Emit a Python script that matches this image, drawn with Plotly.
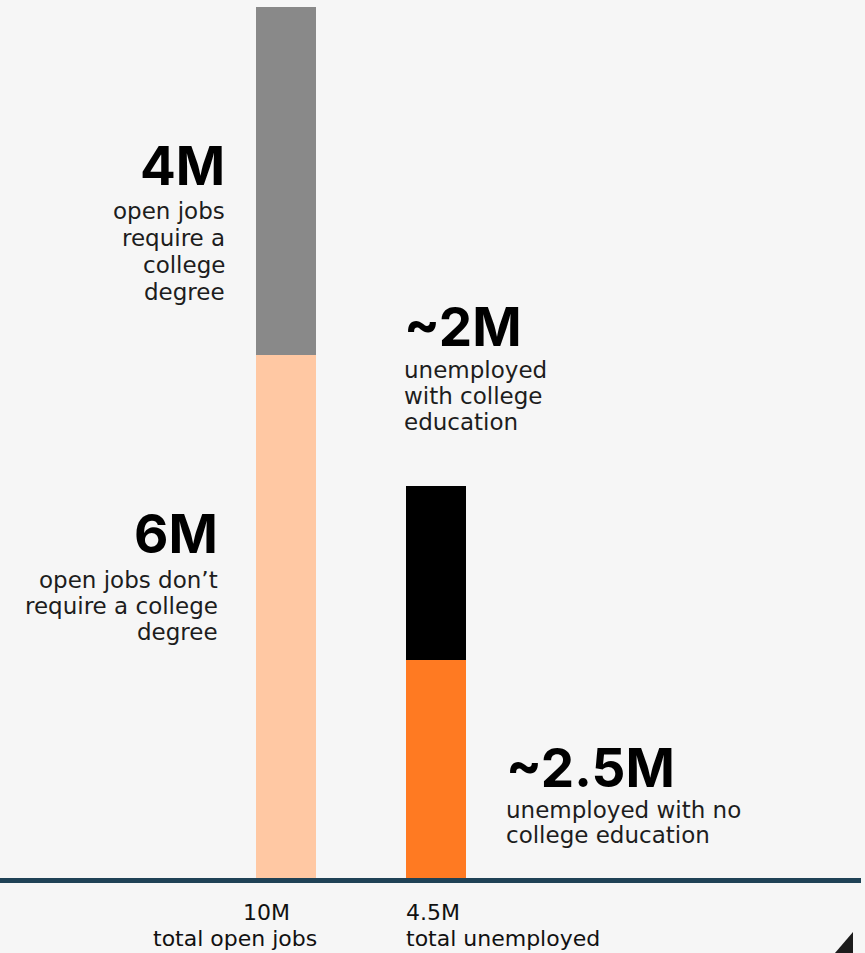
import plotly.graph_objects as go

# ---- data (millions) ----
categories = ["total open jobs", "total unemployed"]
bottom_values = [6, 2.5]      # jobs without degree requirement / unemployed without college
top_values = [4, 2]           # jobs requiring a degree / unemployed with college
bottom_colors = ["#ffc8a3", "#ff7a22"]
top_colors = ["#898989", "#000000"]

segment_numbers = ["6M", "~2.5M", "4M", "~2M"]
segment_texts = [
    ["open jobs don\u2019t", "require a college", "degree"],
    ["unemployed with no", "college education"],
    ["open jobs", "require a", "college", "degree"],
    ["unemployed", "with college", "education"],
]

# ---- page geometry ----
W, H = 865, 953
M_T, M_B, M_L, M_R = 7, 75, 0, 4
PLOT_H = H - M_T - M_B
PLOT_W = W - M_L - M_R
Y_MAX = 10
BAR_STEP_PX = 150          # distance between bar centres
FIRST_BAR_PX = 286         # centre of first bar
BAR_WIDTH = 60 / BAR_STEP_PX
x_lo = -(FIRST_BAR_PX - M_L) / BAR_STEP_PX
x_hi = x_lo + PLOT_W / BAR_STEP_PX

BG = "#f6f6f6"
BODY_FONT = "DejaVu Sans"
NUM_FONT = "Inter"
BODY_SIZE = 23
NUM_SIZE = 53


def py_of(v):
    """pixel row of a data value on the y axis"""
    return M_T + PLOT_H * (1 - v / Y_MAX)


def paper_y(py):
    return (M_T + PLOT_H - py) / PLOT_H


def paper_x(px):
    return (px - M_L) / PLOT_W


fig = go.Figure()
fig.add_trace(go.Bar(x=categories, y=bottom_values, width=BAR_WIDTH,
                     marker=dict(color=bottom_colors, line=dict(width=0)),
                     hoverinfo="skip"))
fig.add_trace(go.Bar(x=categories, y=top_values, width=BAR_WIDTH,
                     marker=dict(color=top_colors, line=dict(width=0)),
                     hoverinfo="skip"))

annotations = []


def add_line(text, px, baseline, anchor, size, family, weight=400, color="#1d1d1d"):
    # centre of the text box sits ~0.35em above the baseline
    annotations.append(dict(
        text=text, xref="paper", yref="paper",
        x=paper_x(px), y=paper_y(baseline - 0.35 * size),
        xanchor=anchor, yanchor="middle", showarrow=False,
        font=dict(family=family, size=size, color=color, weight=weight),
        borderpad=0,
    ))


def add_block(number, lines, px, num_baseline, first_baseline, spacing, anchor):
    add_line(number, px, num_baseline, anchor, NUM_SIZE, NUM_FONT, 700, "#000000")
    for i, ln in enumerate(lines):
        add_line(ln, px, first_baseline + i * spacing, anchor, BODY_SIZE, BODY_FONT)


# labels for the open-jobs bar (right aligned, left of the bar)
add_block(segment_numbers[2], segment_texts[2], 226, 185, 219, 27, "right")
add_block(segment_numbers[0], segment_texts[0], 219, 553, 588, 26, "right")

# labels for the unemployed bar
bar2_top = py_of(bottom_values[1] + top_values[1])
last_base = bar2_top - 56
first_base = last_base - 26 * (len(segment_texts[3]) - 1)
add_block(segment_numbers[3], segment_texts[3], 403, first_base - 33, first_base, 26, "left")
add_block(segment_numbers[1], segment_texts[1], 505, 787, 818, 25, "left")

# totals under the baseline
totals = [b + t for b, t in zip(bottom_values, top_values)]
total_labels = [f"{v:g}M" for v in totals]
TOTAL_SIZE = 22
add_line(total_labels[0], 291, 920, "right", TOTAL_SIZE, BODY_FONT, color="#111111")
add_line(categories[0], 318, 946, "right", TOTAL_SIZE, BODY_FONT, color="#111111")
add_line(total_labels[1], 405, 920, "left", TOTAL_SIZE, BODY_FONT, color="#111111")
add_line(categories[1], 405, 946, "left", TOTAL_SIZE, BODY_FONT, color="#111111")

# small corner mark
tri = [(835, 953), (853, 953), (853, 932)]
path = "M " + " L ".join(f"{paper_x(x):.5f},{paper_y(y):.5f}" for x, y in tri) + " Z"

fig.update_layout(
    width=W, height=H,
    margin=dict(t=M_T, b=M_B, l=M_L, r=M_R, pad=0),
    paper_bgcolor=BG, plot_bgcolor=BG,
    barmode="stack", bargap=0, showlegend=False,
    annotations=annotations,
    shapes=[dict(type="path", path=path, xref="paper", yref="paper",
                 fillcolor="#1c1c1c", line=dict(width=0))],
    xaxis=dict(type="category", range=[x_lo, x_hi], showticklabels=False,
               showgrid=False, zeroline=False, ticks="",
               showline=True, linewidth=5, linecolor="#1f4256"),
    yaxis=dict(range=[0, Y_MAX], visible=False, showgrid=False, zeroline=False),
)

fig.write_html("out.html")
